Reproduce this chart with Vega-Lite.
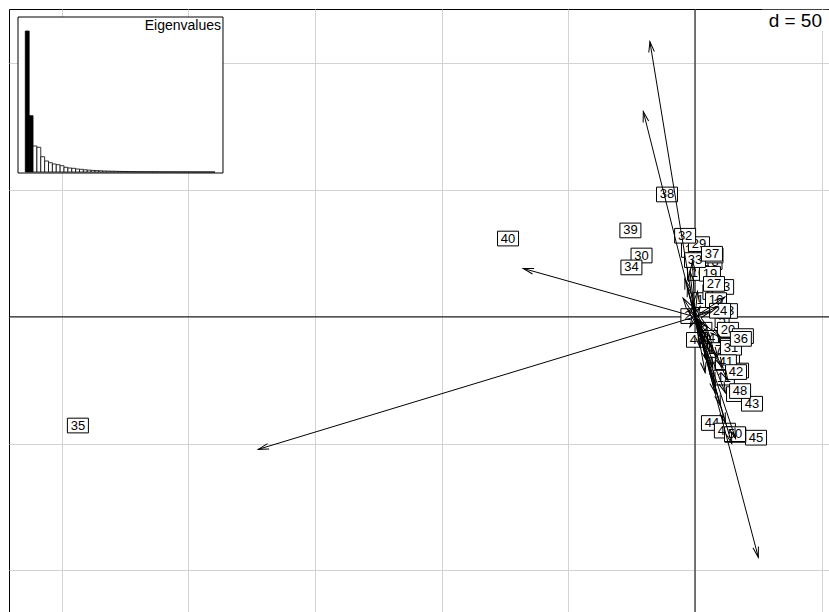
{
  "$schema": "https://vega.github.io/schema/vega-lite/v6.json",
  "width": 820,
  "height": 603,
  "padding": {"left": 9, "top": 9, "right": 0, "bottom": 0},
  "autosize": {"type": "none"},
  "background": "white",
  "config": {
    "view": {"stroke": "black", "strokeWidth": 1},
    "font": "Liberation Sans"
  },
  "datasets": {
    "rows": [
      {"lab": 1, "u": 2.0, "v": 6.6}, {"lab": 2, "u": -2.8, "v": 0.3}, {"lab": 3, "u": 3.9, "v": -5.1},
      {"lab": 4, "u": 8.3, "v": -9.1}, {"lab": 5, "u": 10.7, "v": -1.3}, {"lab": 6, "u": 5.9, "v": 9.8},
      {"lab": 7, "u": 9.1, "v": -15.3}, {"lab": 8, "u": 7.9, "v": 21.6}, {"lab": 9, "u": 10.7, "v": -20.1},
      {"lab": 10, "u": 1.2, "v": 17.3}, {"lab": 11, "u": 16.6, "v": -30.5}, {"lab": 12, "u": 11.4, "v": -24.0},
      {"lab": 13, "u": 11.1, "v": 11.8}, {"lab": 14, "u": 5.1, "v": -8.3}, {"lab": 15, "u": 13.8, "v": -11.1},
      {"lab": 16, "u": 8.3, "v": 6.6}, {"lab": 17, "u": 7.9, "v": -13.1}, {"lab": 18, "u": -1.2, "v": 26.4},
      {"lab": 19, "u": 5.9, "v": 17.0}, {"lab": 20, "u": 13.0, "v": -5.1}, {"lab": 21, "u": 13.4, "v": -17.4},
      {"lab": 22, "u": 17.0, "v": -21.2}, {"lab": 23, "u": 12.6, "v": 2.3}, {"lab": 24, "u": 9.9, "v": 2.4},
      {"lab": 25, "u": 14.2, "v": -11.4}, {"lab": 26, "u": 18.9, "v": -7.6}, {"lab": 27, "u": 7.5, "v": 13.0},
      {"lab": 28, "u": 6.9, "v": 24.2}, {"lab": 29, "u": 1.6, "v": 28.7}, {"lab": 30, "u": -21.1, "v": 24.2},
      {"lab": 31, "u": 14.2, "v": -12.2}, {"lab": 32, "u": -3.9, "v": 32.0}, {"lab": 33, "u": 0.0, "v": 22.4},
      {"lab": 34, "u": -25.1, "v": 19.5}, {"lab": 35, "u": -243.6, "v": -42.9}, {"lab": 36, "u": 18.1, "v": -8.7},
      {"lab": 37, "u": 6.7, "v": 24.9}, {"lab": 38, "u": -11.05, "v": 48.3}, {"lab": 39, "u": -25.5, "v": 34.1},
      {"lab": 40, "u": -73.8, "v": 30.9}, {"lab": 41, "u": 12.2, "v": -17.9}, {"lab": 42, "u": 16.2, "v": -21.8},
      {"lab": 43, "u": 22.5, "v": -34.3}, {"lab": 44, "u": 6.7, "v": -41.9}, {"lab": 45, "u": 24.1, "v": -47.7},
      {"lab": 46, "u": 0.8, "v": -9.1}, {"lab": 47, "u": 11.8, "v": -44.9}, {"lab": 48, "u": 17.8, "v": -29.3},
      {"lab": 49, "u": 15.9, "v": -46.6}, {"lab": 50, "u": 15.8, "v": -46.3}
    ],
    "cols": [
      {"u": -17.8, "v": 108.6}, {"u": -20.4, "v": 81.0}, {"u": -67.8, "v": 19.1}, {"u": -172.4, "v": -52.3},
      {"u": 25.0, "v": -94.9}, {"u": 14.5, "v": -50}, {"u": 16, "v": -48}, {"u": 12, "v": -42},
      {"u": 10, "v": -35}, {"u": 8, "v": -30}, {"u": -4.7, "v": 7.4}, {"u": -3, "v": 12},
      {"u": -2, "v": 18}, {"u": -4, "v": 15}, {"u": -1, "v": 22}, {"u": 11.8, "v": 7.8},
      {"u": 9, "v": 4}, {"u": 6, "v": -8}, {"u": 7, "v": -12}, {"u": 9, "v": -16},
      {"u": 5, "v": -18}, {"u": 11, "v": -20}, {"u": 13, "v": -25}, {"u": 4, "v": -10},
      {"u": 3, "v": -6}, {"u": 2, "v": 4}, {"u": -3, "v": 3}, {"u": 6, "v": 2},
      {"u": 4, "v": -22}, {"u": 8, "v": -26}, {"u": 6, "v": -14}, {"u": 10, "v": -8},
      {"u": -2, "v": -4}, {"u": 1, "v": 10}, {"u": 2, "v": -12}, {"u": 3, "v": -3},
      {"u": -1, "v": 6}, {"u": 5, "v": -4}, {"u": 7, "v": -20}, {"u": 12, "v": -30}
    ],
    "eig": [
      {"k": 1, "ev": 141}, {"k": 2, "ev": 56.3}, {"k": 3, "ev": 26}, {"k": 4, "ev": 24.7},
      {"k": 5, "ev": 15.3}, {"k": 6, "ev": 11}, {"k": 7, "ev": 9.3}, {"k": 8, "ev": 8},
      {"k": 9, "ev": 7.3}, {"k": 10, "ev": 6.3}, {"k": 11, "ev": 4.7}, {"k": 12, "ev": 4},
      {"k": 13, "ev": 3.7}, {"k": 14, "ev": 3}, {"k": 15, "ev": 2.7}, {"k": 16, "ev": 2.2},
      {"k": 17, "ev": 1.9}, {"k": 18, "ev": 1.6}, {"k": 19, "ev": 1.4}, {"k": 20, "ev": 1.2},
      {"k": 21, "ev": 1.0}, {"k": 22, "ev": 0.9}, {"k": 23, "ev": 0.8}, {"k": 24, "ev": 0.7},
      {"k": 25, "ev": 0.6}, {"k": 26, "ev": 0.5}, {"k": 27, "ev": 0.45}, {"k": 28, "ev": 0.4},
      {"k": 29, "ev": 0.35}, {"k": 30, "ev": 0.3}, {"k": 31, "ev": 0.27}, {"k": 32, "ev": 0.25},
      {"k": 33, "ev": 0.23}, {"k": 34, "ev": 0.21}, {"k": 35, "ev": 0.19}, {"k": 36, "ev": 0.17},
      {"k": 37, "ev": 0.15}, {"k": 38, "ev": 0.14}, {"k": 39, "ev": 0.13}, {"k": 40, "ev": 0.12},
      {"k": 41, "ev": 0.1}, {"k": 42, "ev": 0.09}, {"k": 43, "ev": 0.08}, {"k": 44, "ev": 0.07},
      {"k": 45, "ev": 0.06}, {"k": 46, "ev": 0.05}, {"k": 47, "ev": 0.04}, {"k": 48, "ev": 0.03},
      {"k": 49, "ev": 0.02}
    ]
  },
  "layer": [
    {
      "layer": [
        {
          "data": {"name": "rows"},
          "mark": {"type": "point", "opacity": 0},
          "encoding": {
            "x": {"field": "u", "type": "quantitative",
                  "scale": {"domain": [-270.8, 52.9], "nice": false, "zero": false},
                  "axis": {"values": [-250, -200, -150, -100, -50, 0, 50], "grid": true, "gridColor": "#d3d3d3", "gridWidth": 1, "labels": false, "ticks": false, "domain": false, "title": null}},
            "y": {"field": "v", "type": "quantitative",
                  "scale": {"domain": [-116.5, 121.5], "nice": false, "zero": false},
                  "axis": {"values": [-100, -50, 0, 50, 100], "grid": true, "gridColor": "#d3d3d3", "gridWidth": 1, "labels": false, "ticks": false, "domain": false, "title": null}}
          }
        },
        {
          "data": {"values": [{}]},
          "mark": {"type": "rule", "color": "black", "strokeWidth": 1},
          "encoding": {"x": {"datum": 0, "type": "quantitative", "scale": {"domain": [-270.8, 52.9], "nice": false, "zero": false}}}
        },
        {
          "data": {"values": [{}]},
          "mark": {"type": "rule", "color": "black", "strokeWidth": 1},
          "encoding": {"y": {"datum": 0, "type": "quantitative", "scale": {"domain": [-116.5, 121.5], "nice": false, "zero": false}}}
        },
        {
          "data": {"name": "rows"},
          "transform": [{"filter": "datum.lab <= 10"}],
          "encoding": {
            "x": {"field": "u", "type": "quantitative", "scale": {"domain": [-270.8, 52.9], "nice": false, "zero": false}},
            "y": {"field": "v", "type": "quantitative", "scale": {"domain": [-116.5, 121.5], "nice": false, "zero": false}}
          },
          "layer": [
            {"mark": {"type": "point", "filled": true, "fill": "white", "stroke": "black", "strokeWidth": 1, "opacity": 1, "size": 441},
             "encoding": {"shape": {"condition": {"test": "datum.lab < 10", "value": "M-0.667,-0.7H0.667V0.7H-0.667Z"}, "value": "M-1,-0.7H1V0.7H-1Z"}}},
            {"mark": {"type": "text", "fontSize": 13, "align": "center", "baseline": "middle", "color": "black"}, "encoding": {"text": {"field": "lab"}}}
          ]
        },
        {
          "data": {"name": "rows"},
          "transform": [{"filter": "datum.lab >= 11 && datum.lab <= 16"}],
          "encoding": {
            "x": {"field": "u", "type": "quantitative", "scale": {"domain": [-270.8, 52.9], "nice": false, "zero": false}},
            "y": {"field": "v", "type": "quantitative", "scale": {"domain": [-116.5, 121.5], "nice": false, "zero": false}}
          },
          "layer": [
            {"mark": {"type": "point", "filled": true, "fill": "white", "stroke": "black", "strokeWidth": 1, "opacity": 1, "size": 441, "shape": "M-1,-0.7H1V0.7H-1Z"}},
            {"mark": {"type": "text", "fontSize": 13, "align": "center", "baseline": "middle", "color": "black"}, "encoding": {"text": {"field": "lab"}}}
          ]
        },
        {
          "data": {"name": "rows"},
          "transform": [{"filter": "datum.lab >= 17 && datum.lab <= 20"}],
          "encoding": {
            "x": {"field": "u", "type": "quantitative", "scale": {"domain": [-270.8, 52.9], "nice": false, "zero": false}},
            "y": {"field": "v", "type": "quantitative", "scale": {"domain": [-116.5, 121.5], "nice": false, "zero": false}}
          },
          "layer": [
            {"mark": {"type": "point", "filled": true, "fill": "white", "stroke": "black", "strokeWidth": 1, "opacity": 1, "size": 441, "shape": "M-1,-0.7H1V0.7H-1Z"}},
            {"mark": {"type": "text", "fontSize": 13, "align": "center", "baseline": "middle", "color": "black"}, "encoding": {"text": {"field": "lab"}}}
          ]
        },
        {
          "data": {"name": "rows"},
          "transform": [{"filter": "datum.lab >= 21 && datum.lab <= 23"}],
          "encoding": {
            "x": {"field": "u", "type": "quantitative", "scale": {"domain": [-270.8, 52.9], "nice": false, "zero": false}},
            "y": {"field": "v", "type": "quantitative", "scale": {"domain": [-116.5, 121.5], "nice": false, "zero": false}}
          },
          "layer": [
            {"mark": {"type": "point", "filled": true, "fill": "white", "stroke": "black", "strokeWidth": 1, "opacity": 1, "size": 441, "shape": "M-1,-0.7H1V0.7H-1Z"}},
            {"mark": {"type": "text", "fontSize": 13, "align": "center", "baseline": "middle", "color": "black"}, "encoding": {"text": {"field": "lab"}}}
          ]
        },
        {
          "data": {"name": "rows"},
          "transform": [{"filter": "datum.lab >= 24 && datum.lab <= 30"}],
          "encoding": {
            "x": {"field": "u", "type": "quantitative", "scale": {"domain": [-270.8, 52.9], "nice": false, "zero": false}},
            "y": {"field": "v", "type": "quantitative", "scale": {"domain": [-116.5, 121.5], "nice": false, "zero": false}}
          },
          "layer": [
            {"mark": {"type": "point", "filled": true, "fill": "white", "stroke": "black", "strokeWidth": 1, "opacity": 1, "size": 441, "shape": "M-1,-0.7H1V0.7H-1Z"}},
            {"mark": {"type": "text", "fontSize": 13, "align": "center", "baseline": "middle", "color": "black"}, "encoding": {"text": {"field": "lab"}}}
          ]
        },
        {
          "data": {"name": "rows"},
          "transform": [{"filter": "datum.lab >= 31 && datum.lab <= 35"}],
          "encoding": {
            "x": {"field": "u", "type": "quantitative", "scale": {"domain": [-270.8, 52.9], "nice": false, "zero": false}},
            "y": {"field": "v", "type": "quantitative", "scale": {"domain": [-116.5, 121.5], "nice": false, "zero": false}}
          },
          "layer": [
            {"mark": {"type": "point", "filled": true, "fill": "white", "stroke": "black", "strokeWidth": 1, "opacity": 1, "size": 441, "shape": "M-1,-0.7H1V0.7H-1Z"}},
            {"mark": {"type": "text", "fontSize": 13, "align": "center", "baseline": "middle", "color": "black"}, "encoding": {"text": {"field": "lab"}}}
          ]
        },
        {
          "data": {"name": "rows"},
          "transform": [{"filter": "datum.lab >= 36 && datum.lab <= 40"}],
          "encoding": {
            "x": {"field": "u", "type": "quantitative", "scale": {"domain": [-270.8, 52.9], "nice": false, "zero": false}},
            "y": {"field": "v", "type": "quantitative", "scale": {"domain": [-116.5, 121.5], "nice": false, "zero": false}}
          },
          "layer": [
            {"mark": {"type": "point", "filled": true, "fill": "white", "stroke": "black", "strokeWidth": 1, "opacity": 1, "size": 441, "shape": "M-1,-0.7H1V0.7H-1Z"}},
            {"mark": {"type": "text", "fontSize": 13, "align": "center", "baseline": "middle", "color": "black"}, "encoding": {"text": {"field": "lab"}}}
          ]
        },
        {
          "data": {"name": "rows"},
          "transform": [{"filter": "datum.lab == 41"}],
          "encoding": {
            "x": {"field": "u", "type": "quantitative", "scale": {"domain": [-270.8, 52.9], "nice": false, "zero": false}},
            "y": {"field": "v", "type": "quantitative", "scale": {"domain": [-116.5, 121.5], "nice": false, "zero": false}}
          },
          "layer": [
            {"mark": {"type": "point", "filled": true, "fill": "white", "stroke": "black", "strokeWidth": 1, "opacity": 1, "size": 441, "shape": "M-1,-0.7H1V0.7H-1Z"}},
            {"mark": {"type": "text", "fontSize": 13, "align": "center", "baseline": "middle", "color": "black"}, "encoding": {"text": {"field": "lab"}}}
          ]
        },
        {
          "data": {"name": "rows"},
          "transform": [{"filter": "datum.lab >= 42 && datum.lab <= 43"}],
          "encoding": {
            "x": {"field": "u", "type": "quantitative", "scale": {"domain": [-270.8, 52.9], "nice": false, "zero": false}},
            "y": {"field": "v", "type": "quantitative", "scale": {"domain": [-116.5, 121.5], "nice": false, "zero": false}}
          },
          "layer": [
            {"mark": {"type": "point", "filled": true, "fill": "white", "stroke": "black", "strokeWidth": 1, "opacity": 1, "size": 441, "shape": "M-1,-0.7H1V0.7H-1Z"}},
            {"mark": {"type": "text", "fontSize": 13, "align": "center", "baseline": "middle", "color": "black"}, "encoding": {"text": {"field": "lab"}}}
          ]
        },
        {
          "data": {"name": "rows"},
          "transform": [{"filter": "datum.lab >= 44 && datum.lab <= 46"}],
          "encoding": {
            "x": {"field": "u", "type": "quantitative", "scale": {"domain": [-270.8, 52.9], "nice": false, "zero": false}},
            "y": {"field": "v", "type": "quantitative", "scale": {"domain": [-116.5, 121.5], "nice": false, "zero": false}}
          },
          "layer": [
            {"mark": {"type": "point", "filled": true, "fill": "white", "stroke": "black", "strokeWidth": 1, "opacity": 1, "size": 441, "shape": "M-1,-0.7H1V0.7H-1Z"}},
            {"mark": {"type": "text", "fontSize": 13, "align": "center", "baseline": "middle", "color": "black"}, "encoding": {"text": {"field": "lab"}}}
          ]
        },
        {
          "data": {"name": "rows"},
          "transform": [{"filter": "datum.lab >= 47 && datum.lab <= 48"}],
          "encoding": {
            "x": {"field": "u", "type": "quantitative", "scale": {"domain": [-270.8, 52.9], "nice": false, "zero": false}},
            "y": {"field": "v", "type": "quantitative", "scale": {"domain": [-116.5, 121.5], "nice": false, "zero": false}}
          },
          "layer": [
            {"mark": {"type": "point", "filled": true, "fill": "white", "stroke": "black", "strokeWidth": 1, "opacity": 1, "size": 441, "shape": "M-1,-0.7H1V0.7H-1Z"}},
            {"mark": {"type": "text", "fontSize": 13, "align": "center", "baseline": "middle", "color": "black"}, "encoding": {"text": {"field": "lab"}}}
          ]
        },
        {
          "data": {"name": "rows"},
          "transform": [{"filter": "datum.lab == 49"}],
          "encoding": {
            "x": {"field": "u", "type": "quantitative", "scale": {"domain": [-270.8, 52.9], "nice": false, "zero": false}},
            "y": {"field": "v", "type": "quantitative", "scale": {"domain": [-116.5, 121.5], "nice": false, "zero": false}}
          },
          "layer": [
            {"mark": {"type": "point", "filled": true, "fill": "white", "stroke": "black", "strokeWidth": 1, "opacity": 1, "size": 441, "shape": "M-1,-0.7H1V0.7H-1Z"}},
            {"mark": {"type": "text", "fontSize": 13, "align": "center", "baseline": "middle", "color": "black"}, "encoding": {"text": {"field": "lab"}}}
          ]
        },
        {
          "data": {"name": "rows"},
          "transform": [{"filter": "datum.lab == 50"}],
          "encoding": {
            "x": {"field": "u", "type": "quantitative", "scale": {"domain": [-270.8, 52.9], "nice": false, "zero": false}},
            "y": {"field": "v", "type": "quantitative", "scale": {"domain": [-116.5, 121.5], "nice": false, "zero": false}}
          },
          "layer": [
            {"mark": {"type": "point", "filled": true, "fill": "white", "stroke": "black", "strokeWidth": 1, "opacity": 1, "size": 441, "shape": "M-1,-0.7H1V0.7H-1Z"}},
            {"mark": {"type": "text", "fontSize": 13, "align": "center", "baseline": "middle", "color": "black"}, "encoding": {"text": {"field": "lab"}}}
          ]
        },
        {
          "data": {"name": "cols"},
          "mark": {"type": "rule", "color": "black", "strokeWidth": 1},
          "encoding": {
            "x": {"field": "u", "type": "quantitative", "scale": {"domain": [-270.8, 52.9], "nice": false, "zero": false}},
            "y": {"field": "v", "type": "quantitative", "scale": {"domain": [-116.5, 121.5], "nice": false, "zero": false}},
            "x2": {"datum": 0},
            "y2": {"datum": 0}
          }
        },
        {
          "data": {"name": "cols"},
          "transform": [{"calculate": "atan2(datum.u, datum.v) * 180 / PI", "as": "ang"}],
          "mark": {"type": "point", "filled": false, "stroke": "black", "strokeWidth": 1, "opacity": 1, "size": 441, "shape": "M-0.27,1L0,0L0.27,1"},
          "encoding": {
            "x": {"field": "u", "type": "quantitative", "scale": {"domain": [-270.8, 52.9], "nice": false, "zero": false}},
            "y": {"field": "v", "type": "quantitative", "scale": {"domain": [-116.5, 121.5], "nice": false, "zero": false}},
            "angle": {"field": "ang", "type": "quantitative", "scale": null}
          }
        },
        {
          "data": {"values": [{}]},
          "mark": {"type": "rect", "fill": "white"},
          "encoding": {
            "x": {"datum": 26.5, "type": "quantitative", "scale": {"domain": [-270.8, 52.9], "nice": false, "zero": false}},
            "x2": {"datum": 52.6},
            "y": {"datum": 112.8, "type": "quantitative", "scale": {"domain": [-116.5, 121.5], "nice": false, "zero": false}},
            "y2": {"datum": 121.2}
          }
        },
        {
          "data": {"values": [{}]},
          "mark": {"type": "text", "text": "d = 50", "fontSize": 19, "align": "right", "baseline": "middle", "dx": -7, "color": "black"},
          "encoding": {
            "x": {"datum": 52.9, "type": "quantitative", "scale": {"domain": [-270.8, 52.9], "nice": false, "zero": false}},
            "y": {"datum": 116.8, "type": "quantitative", "scale": {"domain": [-116.5, 121.5], "nice": false, "zero": false}}
          }
        }
      ]
    },
    {
      "layer": [
        {
          "data": {"values": [{}]},
          "mark": {"type": "rect", "fill": "white", "stroke": "black", "strokeWidth": 1},
          "encoding": {
            "x": {"datum": -1.385, "type": "quantitative", "scale": {"domain": [-3.71, 208.12], "nice": false, "zero": false, "padding": 0}, "axis": null},
            "x2": {"datum": 51.57},
            "y": {"datum": -1, "type": "quantitative", "scale": {"domain": [-440, 163], "nice": false, "zero": false, "padding": 0}, "axis": null},
            "y2": {"datum": 155}
          }
        },
        {
          "data": {"name": "eig"},
          "mark": {"type": "bar", "width": 3.871, "stroke": "black", "strokeWidth": 0.8},
          "encoding": {
            "x": {"field": "k", "type": "quantitative", "scale": {"domain": [-3.71, 208.12], "nice": false, "zero": false, "padding": 0}, "axis": null},
            "y": {"field": "ev", "type": "quantitative", "scale": {"domain": [-440, 163], "nice": false, "zero": false, "padding": 0}, "axis": null},
            "color": {"condition": {"test": "datum.k <= 2", "value": "black"}, "value": "white"}
          }
        },
        {
          "data": {"values": [{}]},
          "mark": {"type": "text", "text": "Eigenvalues", "fontSize": 14, "align": "right", "baseline": "top", "dx": -2, "dy": 2, "color": "black"},
          "encoding": {
            "x": {"datum": 51.57, "type": "quantitative", "scale": {"domain": [-3.71, 208.12], "nice": false, "zero": false, "padding": 0}, "axis": null},
            "y": {"datum": 155, "type": "quantitative", "scale": {"domain": [-440, 163], "nice": false, "zero": false, "padding": 0}, "axis": null}
          }
        }
      ]
    }
  ],
  "resolve": {"scale": {"x": "independent", "y": "independent"}}
}
